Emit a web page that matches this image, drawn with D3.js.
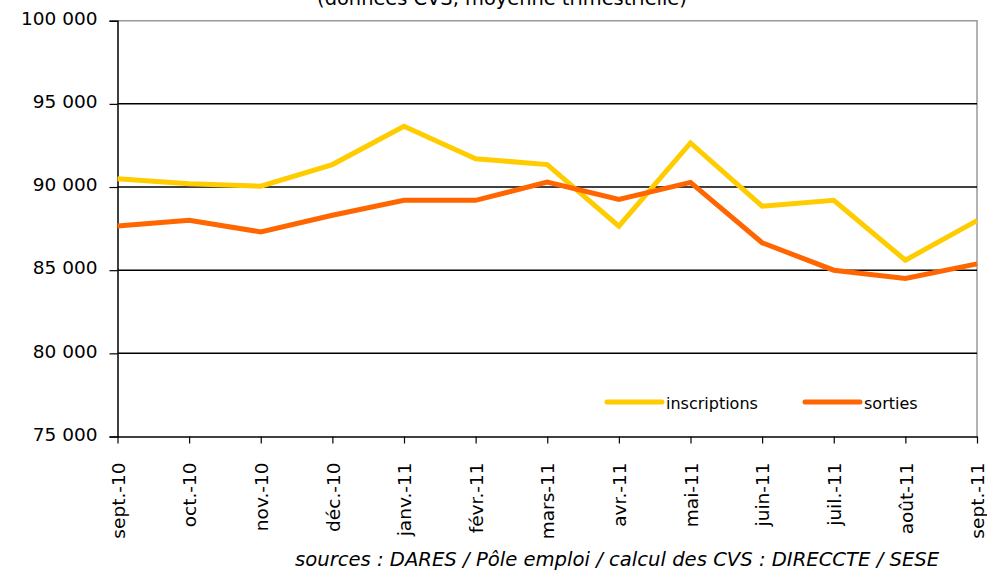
<!DOCTYPE html>
<html>
<head>
<meta charset="utf-8">
<script src="https://cdn.jsdelivr.net/npm/d3@7"></script>
<style>
  body { margin: 0; background: #fff; }
  svg { display: block; font-family: 'DejaVu Sans', sans-serif; }
</style>
</head>
<body>
<svg id="chart"></svg>
<script>
const months = ['sept.-10', 'oct.-10', 'nov.-10', 'déc.-10', 'janv.-11', 'févr.-11', 'mars-11',
  'avr.-11', 'mai-11', 'juin-11', 'juil.-11', 'août-11', 'sept.-11'];
const inscriptions = [90500, 90200, 90050, 91350, 93650, 91700, 91350, 87650, 92650, 88850, 89200, 85600, 87980];
const sorties = [87650, 88000, 87300, 88300, 89200, 89200, 90300, 89250, 90280, 86650, 85000, 84500, 85380];
const yTicks = [75000, 80000, 85000, 90000, 95000, 100000];
const seriesNames = ['inscriptions', 'sorties'];
const seriesColors = ['#ffcc00', '#ff6600'];

const width = 987, height = 572;
const margin = {top: 20.7, right: 10, bottom: 135.5, left: 117.5};
const iw = width - margin.left - margin.right;
const ih = height - margin.top - margin.bottom;

const svg = d3.select('#chart')
  .attr('width', width)
  .attr('height', height);

const x = d3.scalePoint()
  .domain(months)
  .range([0, iw])
  .padding(0);
const y = d3.scaleLinear()
  .domain([75000, 100000])
  .range([ih, 0]);

const fmt = v => d3.format(',')(v).replace(/,/g, ' ');

// shrink a text so it spans a given width
const fitWidth = (sel, w, size) => {
  const len = sel.node().getComputedTextLength();
  sel.style('font-size', (size * w / len).toFixed(2) + 'px');
};

// title, cut at the top edge
const title = svg.append('text')
  .attr('x', 502)
  .attr('y', 5)
  .attr('text-anchor', 'middle')
  .style('font-size', '17px')
  .text('(données CVS, moyenne trimestrielle)');
fitWidth(title, 370, 17);

const g = svg.append('g')
  .attr('transform', `translate(${margin.left},${margin.top})`);

// frame top and right
g.append('path')
  .attr('d', `M0,0H${iw}V${ih}`)
  .attr('fill', 'none')
  .attr('stroke', '#999')
  .attr('stroke-width', 1.5);

// grid
g.append('g')
  .selectAll('line')
  .data(yTicks.filter(d => d > 75000 && d < 100000))
  .enter()
  .append('line')
  .attr('x1', 0)
  .attr('x2', iw)
  .attr('y1', d => y(d))
  .attr('y2', d => y(d))
  .attr('stroke', '#000')
  .attr('stroke-width', 1.5);

const yAxis = g.append('g')
  .call(d3.axisLeft(y).tickValues(yTicks).tickFormat(fmt).tickSize(8).tickPadding(12));
yAxis.select('.domain').attr('stroke', '#000').attr('stroke-width', 1.5);
yAxis.selectAll('line').attr('stroke', '#000').attr('stroke-width', 1.2);
yAxis.selectAll('text')
  .attr('dy', '0.2em')
  .style('font-family', "'DejaVu Sans', sans-serif")
  .style('font-size', '18.5px')
  .attr('fill', '#000');

const xAxis = g.append('g')
  .attr('transform', `translate(0,${ih})`)
  .call(d3.axisBottom(x).tickSize(7).tickSizeOuter(0));
xAxis.select('.domain').attr('stroke', '#000').attr('stroke-width', 1.5);
xAxis.selectAll('line').attr('stroke', '#000').attr('stroke-width', 1.2);
xAxis.selectAll('text')
  .attr('transform', 'rotate(-90)')
  .attr('text-anchor', 'end')
  .attr('x', -26)
  .attr('y', 0)
  .attr('dy', '0.36em')
  .style('font-family', "'DejaVu Sans', sans-serif")
  .style('font-size', '18.5px')
  .attr('fill', '#000');

// lines
const line = d3.line()
  .x((d, i) => x(months[i]))
  .y(d => y(d));

[inscriptions, sorties].forEach((s, k) => {
  g.append('path')
    .datum(s)
    .attr('fill', 'none')
    .attr('stroke', seriesColors[k])
    .attr('stroke-width', 5)
    .attr('stroke-linejoin', 'miter')
    .attr('d', line);
});

// legend
const legend = svg.append('g');
const legendX = [607, 805];
seriesNames.forEach((name, k) => {
  legend.append('line')
    .attr('x1', legendX[k])
    .attr('x2', legendX[k] + 55)
    .attr('y1', 402)
    .attr('y2', 402)
    .attr('stroke', seriesColors[k])
    .attr('stroke-width', 5)
    .attr('stroke-linecap', 'round');
  legend.append('text')
    .attr('x', legendX[k] + 59)
    .attr('y', 409)
    .style('font-size', '16px')
    .text(name);
});

// source
const source = svg.append('text')
  .attr('x', 295)
  .attr('y', 566)
  .style('font-size', '19px')
  .style('font-style', 'italic')
  .text('sources : DARES / Pôle emploi / calcul des CVS : DIRECCTE / SESE');
fitWidth(source, 645, 19);
</script>
</body>
</html>
